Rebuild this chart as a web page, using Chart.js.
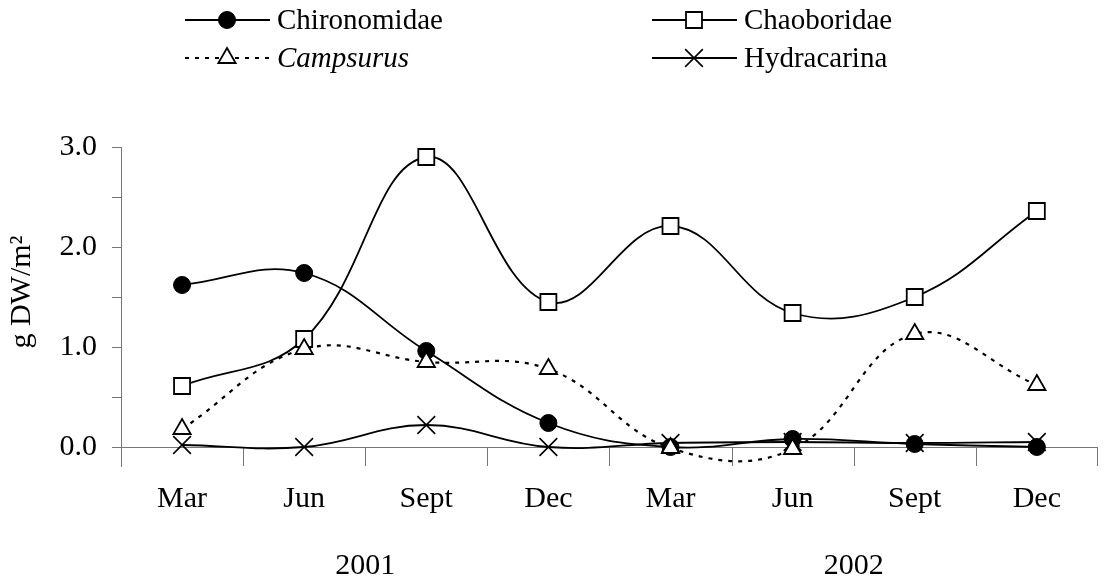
<!DOCTYPE html>
<html><head><meta charset="utf-8">
<script src="https://cdn.jsdelivr.net/npm/chart.js@4.4.0/dist/chart.umd.min.js"></script>
<style>html,body{margin:0;padding:0;background:#fff;overflow:hidden}#wrap{width:1112px;height:578px;position:relative}</style>
</head><body><div id="wrap"><canvas id="c"></canvas></div>
<script>
const months = ['Mar','Jun','Sept','Dec','Mar','Jun','Sept','Dec'];
const years = ['2001','2002'];
const chironomidae = [1.62, 1.74, 0.96, 0.24, 0.00, 0.08, 0.03, 0.00];
const chaoboridae  = [0.61, 1.08, 2.90, 1.45, 2.21, 1.34, 1.50, 2.36];
const campsurus    = [0.18, 0.98, 0.85, 0.78, -0.01, -0.02, 1.13, 0.62];
const hydracarina  = [0.02, 0.00, 0.22, 0.00, 0.04, 0.05, 0.04, 0.05];
const yTitle = 'g DW/m²';

const SERIF = "'Liberation Serif', 'Times New Roman', serif";

const datasets = [
  {label:'Chironomidae', data:chironomidae, borderColor:'#000', backgroundColor:'#000',
   borderWidth:1.8, pointStyle:'circle', pointRadius:8.5, pointBorderWidth:1,
   pointBackgroundColor:'#000', pointBorderColor:'#000', order:1, italic:false},
  {label:'Chaoboridae', data:chaoboridae, borderColor:'#000', backgroundColor:'#fff',
   borderWidth:1.8, pointStyle:'rect', pointRadius:11.3, pointBorderWidth:1.8,
   pointBackgroundColor:'#fff', pointBorderColor:'#000', order:2, italic:false},
  {label:'Campsurus', data:campsurus, borderColor:'#000', backgroundColor:'#fff',
   borderWidth:2.2, borderDash:[4,6], pointStyle:'triangle', pointRadius:10, pointBorderWidth:1.8,
   pointBackgroundColor:'#fff', pointBorderColor:'#000', order:0, italic:true},
  {label:'Hydracarina', data:hydracarina, borderColor:'#000', backgroundColor:'#000',
   borderWidth:1.8, pointStyle:'crossRot', pointRadius:12.5, pointBorderWidth:1.6,
   pointBackgroundColor:'#000', pointBorderColor:'#000', order:3, italic:false}
];

const axisPlugin = {
  id:'axisPlugin',
  beforeDatasetsDraw(chart){
    const {ctx, chartArea:a, scales:{x, y}} = chart;
    const y0 = Math.round(y.getPixelForValue(0)) + 0.5;
    ctx.save();
    ctx.strokeStyle = '#777';
    ctx.lineWidth = 1;
    ctx.beginPath();
    ctx.moveTo(a.left, y0); ctx.lineTo(a.right, y0);
    for (let i = 0; i < months.length; i++) {
      const xb = i < months.length - 1
        ? (x.getPixelForValue(i) + x.getPixelForValue(i + 1)) / 2
        : a.right - 0.5;
      const xr = Math.round(xb) + 0.5;
      ctx.moveTo(xr, y0); ctx.lineTo(xr, a.bottom);
    }
    ctx.stroke();
    ctx.restore();
  },
  afterDraw(chart){
    const {ctx, scales:{x}} = chart;
    ctx.save();
    ctx.fillStyle = '#000';
    ctx.font = '30px ' + SERIF;
    ctx.textAlign = 'center';
    ctx.textBaseline = 'alphabetic';
    years.forEach((yr, k) => {
      const cx = (x.getPixelForValue(4*k + 1) + x.getPixelForValue(4*k + 2)) / 2;
      ctx.fillText(yr, cx, 574);
    });
    ctx.save();
    ctx.translate(22, 292);
    ctx.rotate(-Math.PI/2);
    ctx.textBaseline = 'middle';
    ctx.fillText(yTitle, 0, 0);
    ctx.restore();
    const cols = [185, 652], rows = [20, 58];
    [0, 1, 2, 3].forEach((di, k) => {
      const ds = chart.data.datasets[di];
      const x0 = cols[k % 2], yy = rows[Math.floor(k / 2)];
      ctx.save();
      ctx.strokeStyle = ds.borderColor;
      ctx.lineWidth = ds.borderWidth;
      ctx.setLineDash(ds.borderDash || []);
      ctx.beginPath();
      ctx.moveTo(x0, yy); ctx.lineTo(x0 + 85, yy);
      ctx.stroke();
      ctx.setLineDash([]);
      ctx.fillStyle = ds.pointBackgroundColor;
      ctx.strokeStyle = ds.pointBorderColor;
      ctx.lineWidth = ds.pointBorderWidth;
      Chart.helpers.drawPoint(ctx, {pointStyle: ds.pointStyle, radius: ds.pointRadius,
        rotation: 0, borderWidth: ds.pointBorderWidth}, x0 + 42, yy);
      ctx.fillStyle = '#000';
      ctx.font = (ds.italic ? 'italic ' : '') + '29px ' + SERIF;
      ctx.textAlign = 'left';
      ctx.textBaseline = 'middle';
      ctx.fillText(ds.label, x0 + 92, yy + 1);
      ctx.restore();
    });
    ctx.restore();
  }
};

new Chart(document.getElementById('c'), {
  type:'line',
  data:{labels:months, datasets:datasets},
  options:{
    responsive:true, maintainAspectRatio:false, animation:false, events:[],
    layout:{padding:{top:147, left:0, right:1, bottom:0}},
    elements:{line:{tension:0.4, capBezierPoints:false}},
    plugins:{legend:{display:false}, tooltip:{enabled:false}},
    scales:{
      x:{
        offset:true,
        afterFit(s){ s.height = 112; },
        border:{display:false},
        grid:{display:false},
        ticks:{padding:7, color:'#000', maxRotation:0, autoSkip:false,
               font:{family:SERIF, size:30}}
      },
      y:{
        min:-0.19, max:3.0,
        afterFit(s){ s.width = 121; },
        border:{display:true, color:'#777', width:1},
        grid:{drawOnChartArea:false, drawTicks:true, tickLength:9, color:'#777', lineWidth:1},
        ticks:{stepSize:0.5, includeBounds:false, padding:15, color:'#000',
               font:{family:SERIF, size:30},
               callback:(v) => Math.abs(v - Math.round(v)) < 1e-9 ? Number(v).toFixed(1) : ''}
      }
    }
  },
  plugins:[axisPlugin]
});
</script>
</body></html>
